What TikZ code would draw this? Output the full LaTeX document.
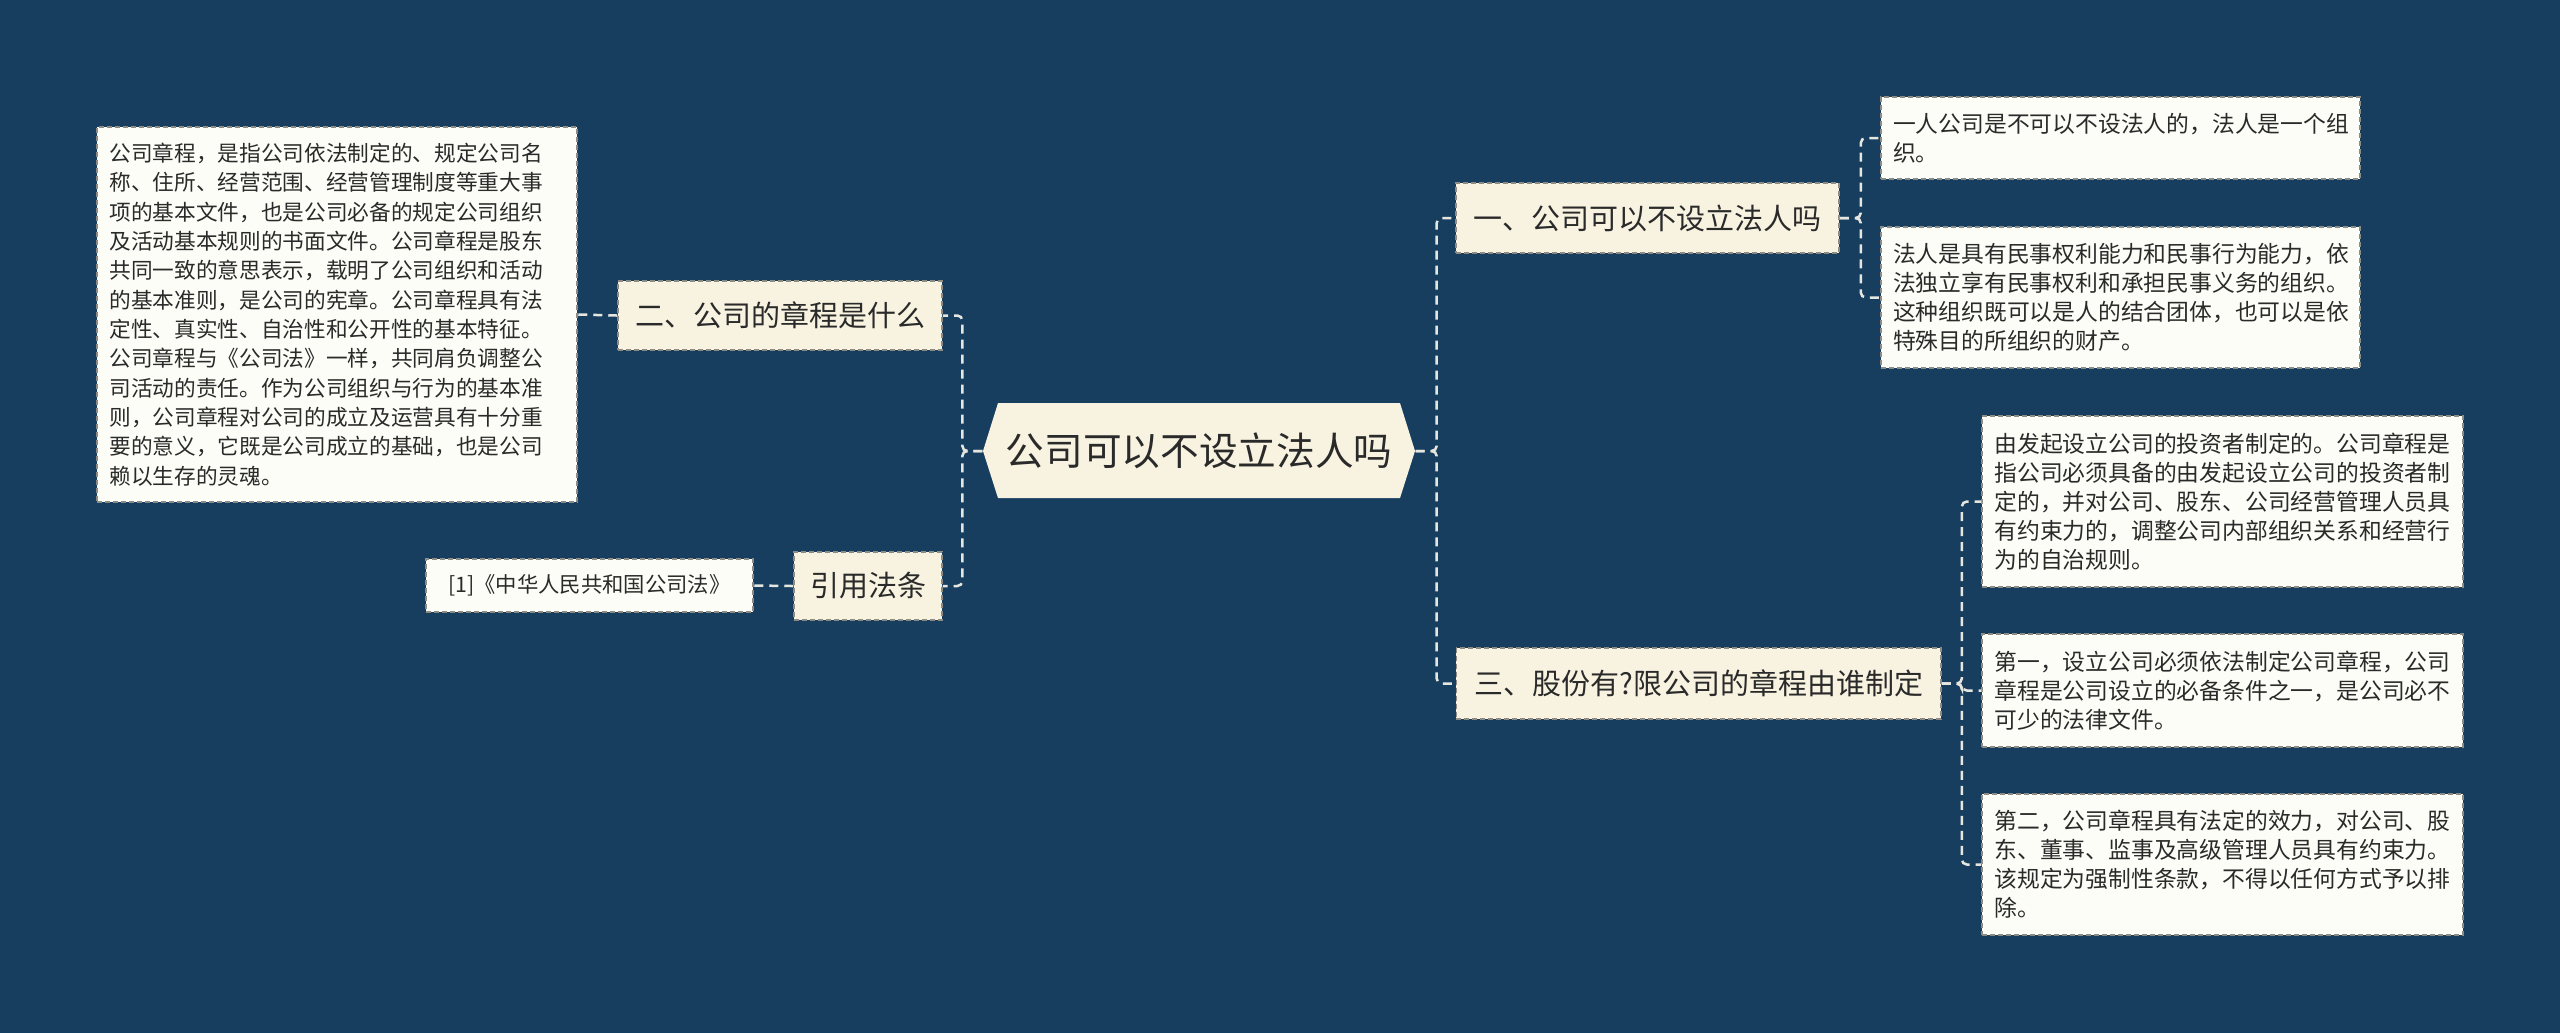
\documentclass[tikz,border=0pt]{standalone}
\usepackage{fontspec}
\setmainfont{Noto Sans CJK SC}
\definecolor{bgc}{HTML}{173E5F}
\definecolor{creamc}{HTML}{F8F3E1}
\definecolor{leafc}{HTML}{FDFDF7}
\definecolor{borderc}{HTML}{8C8C84}
\definecolor{connc}{HTML}{E6E6E0}
\definecolor{textc}{HTML}{2A2A2A}
\tikzset{
  conn/.style={draw=connc, line width=0.75pt, dash pattern=on 2.7pt off 1.8pt, rounded corners=1.5pt},
  mainbox/.style={fill=creamc, draw=borderc, line width=0.45pt, dash pattern=on 1.5pt off 0.9pt, inner sep=0pt, text=textc, font=\fontsize{8.7pt}{10pt}\selectfont, anchor=center},
  leafbox/.style={fill=leafc, draw=borderc, line width=0.45pt, dash pattern=on 1.5pt off 0.9pt, inner xsep=3.6pt, inner ysep=0pt, text=textc, align=left, font=\fontsize{6.84pt}{8.7pt}\selectfont, anchor=center},
}
\begin{document}
\begin{tikzpicture}[x=0.3pt, y=-0.3pt]
\fill[bgc] (0,0) rectangle (2560,1033);
\useasboundingbox (0,0) rectangle (2560,1033);
% central hexagon
\fill[creamc] (983,451) -- (998,403) -- (1400,403) -- (1415,451) -- (1400,498) -- (998,498) -- cycle;
\node[inner sep=0pt, minimum width=129.6pt, minimum height=28.5pt, text=textc, font=\fontsize{11.6pt}{13pt}\selectfont] (c) at (1199,451) {公司可以不设立法人吗};
% left side
\node[mainbox, minimum width=97.2pt, minimum height=20.7pt] (er) at (780,315.5) {二、公司的章程是什么};
\node[mainbox, minimum width=44.4pt, minimum height=20.4pt] (yin) at (868,586) {引用法条};
\node[leafbox, minimum width=144pt, minimum height=112.5pt, inner xsep=3.75pt, text width=136.5pt, font=\fontsize{6.5pt}{8.8pt}\selectfont] (big) at (337,314.5) {公司章程，是指公司依法制定的、规定公司名\\称、住所、经营范围、经营管理制度等重大事\\项的基本文件，也是公司必备的规定公司组织\\及活动基本规则的书面文件。公司章程是股东\\共同一致的意思表示，载明了公司组织和活动\\的基本准则，是公司的宪章。公司章程具有法\\定性、真实性、自治性和公开性的基本特征。\\公司章程与《公司法》一样，共同肩负调整公\\司活动的责任。作为公司组织与行为的基本准\\则，公司章程对公司的成立及运营具有十分重\\要的意义，它既是公司成立的基础，也是公司\\赖以生存的灵魂。};
\node[leafbox, align=center, inner xsep=0pt, minimum width=98.1pt, minimum height=15.9pt, font=\fontsize{6.4pt}{8pt}\selectfont] (ref) at (589.5,585.5) {[1]《中华人民共和国公司法》};
% right side
\node[mainbox, minimum width=114.9pt, minimum height=21pt] (yi) at (1647.5,218) {一、公司可以不设立法人吗};
\node[mainbox, minimum width=145.4pt, minimum height=21.3pt] (san) at (1698.75,683.5) {三、股份有?限公司的章程由谁制定};
\node[leafbox, minimum width=143.7pt, minimum height=24.6pt, text width=136.5pt] (y1) at (2120.5,138) {一人公司是不可以不设法人的，法人是一个组\\织。};
\node[leafbox, minimum width=143.7pt, minimum height=42.3pt, text width=136.5pt] (y2) at (2120.5,297.5) {法人是具有民事权利能力和民事行为能力，依\\法独立享有民事权利和承担民事义务的组织。\\这种组织既可以是人的结合团体，也可以是依\\特殊目的所组织的财产。};
\node[leafbox, minimum width=144.3pt, minimum height=51.3pt, text width=136.8pt] (s1) at (2222.5,501.5) {由发起设立公司的投资者制定的。公司章程是\\指公司必须具备的由发起设立公司的投资者制\\定的，并对公司、股东、公司经营管理人员具\\有约束力的，调整公司内部组织关系和经营行\\为的自治规则。};
\node[leafbox, minimum width=144.3pt, minimum height=33.9pt, text width=136.8pt] (s2) at (2222.5,690.5) {第一，设立公司必须依法制定公司章程，公司\\章程是公司设立的必备条件之一，是公司必不\\可少的法律文件。};
\node[leafbox, minimum width=144.3pt, minimum height=42.3pt, text width=136.8pt] (s3) at (2222.5,864.5) {第二，公司章程具有法定的效力，对公司、股\\东、董事、监事及高级管理人员具有约束力。\\该规定为强制性条款，不得以任何方式予以排\\除。};
% connectors
\draw[conn] (c.west) -- ++(-20,0) |- (er.east);
\draw[conn] (c.west) -- ++(-20,0) |- (yin.east);
\draw[conn] (er.west) -- (big.east);
\draw[conn] (yin.west) -- (ref.east);
\draw[conn] (c.east) -- ++(21,0) |- (yi.west);
\draw[conn] (c.east) -- ++(21,0) |- (san.west);
\draw[conn] (yi.east) -- ++(21,0) |- (y1.west);
\draw[conn] (yi.east) -- ++(21,0) |- (y2.west);
\draw[conn] (san.east) -- ++(20,0) |- (s1.west);
\draw[conn] (san.east) -- ++(20,0) |- (s2.west);
\draw[conn] (san.east) -- ++(20,0) |- (s3.west);
\end{tikzpicture}
\end{document}
